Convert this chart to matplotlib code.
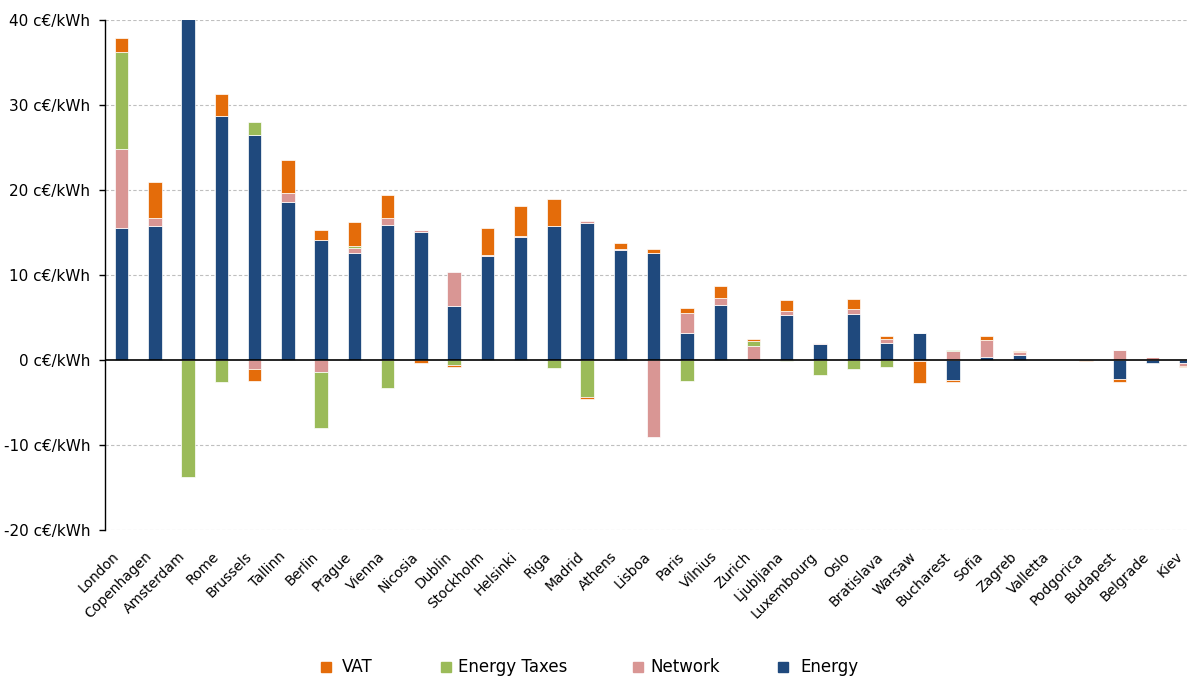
import matplotlib

matplotlib.use("Agg")
import matplotlib.pyplot as plt
from matplotlib.patches import Rectangle
from matplotlib.transforms import ScaledTranslation
import numpy as np

plt.rcParams["font.family"] = ["DejaVu Sans"]

# city order as shown, left to right
cities = ["London", "Copenhagen", "Amsterdam", "Rome", "Brussels", "Tallinn",
          "Berlin", "Prague", "Vienna", "Nicosia", "Dublin", "Stockholm",
          "Helsinki", "Riga", "Madrid", "Athens", "Lisboa", "Paris", "Vilnius",
          "Zurich", "Ljubljana", "Luxembourg", "Oslo", "Bratislava", "Warsaw",
          "Bucharest", "Sofia", "Zagreb", "Valletta", "Podgorica", "Budapest",
          "Belgrade", "Kiev"]

# c€/kWh (Amsterdam energy runs past the 40 top)
energy = [15.56, 15.8, 42.0, 28.75, 26.47, 18.63, 14.16, 12.63, 15.88, 15.1,
          6.4, 12.27, 14.51, 15.76, 16.08, 12.98, 12.63, 3.22, 6.51, 0.0,
          5.29, 1.92, 5.37, 1.96, 3.14, -2.3, 0.35, 0.63, 0.0, 0.0, -2.27,
          -0.39, -0.37]
network = [9.22, 0.9, 0.0, 0.0, -1.02, 0.98, -1.45, 0.57, 0.82, 0.23,
           3.9, 0.1, 0.1, 0.05, 0.27, 0.05, -9.06, 2.35, 0.82, 1.69,
           0.51, 0.05, 0.59, 0.51, -0.1, 1.06, 2.04, 0.27, 0.0, 0.0, 1.14,
           0.35, -0.33]
energy_taxes = [11.4, 0.0, -13.8, -2.63, 1.5, 0.0, -6.59, 0.2, -3.29, 0.0,
                -0.6, 0.0, 0.0, -0.9, -4.31, 0.0, 0.0, -2.5, 0.0, 0.55,
                -0.1, -1.8, -1.06, -0.82, 0.0, 0.1, 0.0, 0.0, 0.0, 0.0, 0.0,
                0.0, 0.0]
vat = [1.76, 4.2, 0.0, 2.6, -1.41, 3.93, 1.13, 2.84, 2.67, -0.4,
       -0.25, 3.12, 3.5, 3.1, -0.32, 0.77, 0.39, 0.55, 1.41, 0.2,
       1.22, 0.0, 1.22, 0.31, -2.6, -0.25, 0.47, 0.16, 0.0, -0.12, -0.32,
       0.0, -0.12]

yticks = [-20, -10, 0, 10, 20, 30, 40]

C_VAT = "#E46C0A"
C_TAX = "#9BBB59"
C_NET = "#D99694"
C_ENE = "#1F497D"

W, H = 1187, 677
fig = plt.figure(figsize=(W / 100, H / 100), dpi=100)
ax = fig.add_axes([105 / W, 1 - 530 / H, 1 - 105 / W, (530 - 20) / H])

x = np.arange(len(cities))
pos_bottom = np.zeros(len(cities))
neg_bottom = np.zeros(len(cities))
# stacked outward from zero in the same order both ways (Excel-style)
for vals, color in [(energy, C_ENE), (network, C_NET),
                    (energy_taxes, C_TAX), (vat, C_VAT)]:
    v = np.array(vals)
    bottom = np.where(v >= 0, pos_bottom, neg_bottom)
    ax.bar(x, v, 0.4, bottom=bottom, color=color, edgecolor="white",
           linewidth=0.5, zorder=3)
    pos_bottom += np.where(v > 0, v, 0)
    neg_bottom += np.where(v < 0, v, 0)

ax.set_ylim(-20, 40)
ax.set_xlim(-0.5, 32.04)
ax.set_yticks(yticks)
ax.set_yticklabels([f"{t} c€/kWh" for t in yticks], fontsize=11)
ax.tick_params(axis="y", direction="out", length=4.5, width=1, pad=6)
ax.set_xticks(x)
ax.set_xticklabels(cities, rotation=45, ha="right", va="top",
                   rotation_mode="anchor", fontsize=10)
ax.tick_params(axis="x", length=0, pad=14)
# nudge the slanted labels left so the last one (Kiev) stays inside
shift = ScaledTranslation(-10 / 100, 0, fig.dpi_scale_trans)
for lbl in ax.get_xticklabels():
    lbl.set_transform(lbl.get_transform() + shift)

for t in yticks:
    if t != 0:
        ax.axhline(t, color="#BFBFBF", linestyle=(0, (3, 2)), linewidth=0.8,
                   zorder=1)
ax.axhline(0, color="black", linewidth=1.2, zorder=4)

for s in ["top", "right", "bottom"]:
    ax.spines[s].set_visible(False)
ax.spines["left"].set_linewidth(1)

# legend strip along the bottom, Excel-like uneven spacing
legend_items = [("VAT", C_VAT, 321, 342), ("Energy Taxes", C_TAX, 441, 458),
                ("Network", C_NET, 633, 650), ("Energy", C_ENE, 778, 800)]
ly = 667
for label, color, sx, tx in legend_items:
    fig.add_artist(Rectangle((sx / W, 1 - (ly + 5) / H), 10 / W, 10 / H,
                             transform=fig.transFigure, color=color))
    fig.text(tx / W, 1 - ly / H, label, fontsize=12, va="center", ha="left")

fig.savefig("out.png", dpi=100)
